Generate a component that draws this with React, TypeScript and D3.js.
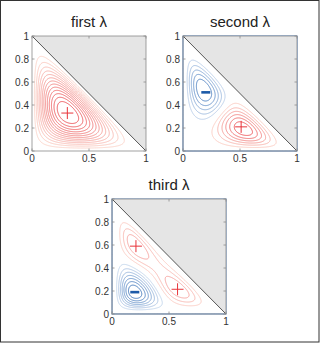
import React from "react";
import * as d3 from "d3";

// ---- data ----
const titles = ["first λ", "second λ", "third λ"];
const xTicks = [0, 0.5, 1];
const yTicks = [0, 0.2, 0.4, 0.6, 0.8, 1];

// extrema (bump centres) of each mode, with sign/amplitude and sharpness
const mode1Centers = [[0.31, 0.33]];
const mode1Amps = [1];
const mode1Sharp = [4.5];

const mode2Centers = [[0.51, 0.21], [0.2, 0.51]];
const mode2Amps = [1, -0.95];
const mode2Sharp = [9, 9];

const mode3Centers = [[0.2, 0.19], [0.21, 0.59], [0.575, 0.215]];
const mode3Amps = [-1, 0.5, 0.5];
const mode3Sharp = [12, 13, 13];

// contour levels (relative to max |value|)
const mode1Levels = [0.07, 0.14, 0.21, 0.28, 0.35, 0.42, 0.49, 0.56, 0.63, 0.7, 0.77, 0.84, 0.91];
const mode2Levels = [-0.78, -0.63, -0.48, -0.33, -0.18, 0.12, 0.27, 0.42, 0.57, 0.72, 0.87];
const mode3Levels = [-0.875, -0.75, -0.625, -0.5, -0.375, -0.25, -0.125, 0.125, 0.25, 0.375];

// markers: [x, y, sign]
const mode1Marks = [[0.31, 0.33, 1]];
const mode2Marks = [[0.51, 0.21, 1], [0.2, 0.51, -1]];
const mode3Marks = [[0.21, 0.59, 1], [0.575, 0.215, 1], [0.2, 0.19, -1]];

const N = 241;

function field(centers: number[][], amps: number[], sharp: number[]) {
  const vals = new Float64Array(N * N);
  for (let j = 0; j < N; j++) {
    const y = j / (N - 1);
    for (let i = 0; i < N; i++) {
      const x = i / (N - 1);
      const z = 1 - x - y;
      let v = 0;
      if (x > 0 && y > 0 && z > 0) {
        centers.forEach((c, k) => {
          const cx = c[0], cy = c[1], cz = 1 - cx - cy;
          const S = sharp[k];
          const b = Math.pow(x / cx, S * cx) * Math.pow(y / cy, S * cy) * Math.pow(z / cz, S * cz);
          v += amps[k] * b;
        });
      }
      vals[j * N + i] = v;
    }
  }
  let m = 0;
  for (let k = 0; k < vals.length; k++) m = Math.max(m, Math.abs(vals[k]));
  for (let k = 0; k < vals.length; k++) vals[k] /= m;
  return vals;
}

const redC = d3.interpolateRgb("#fcdccf", "#e8353b");
const blueC = d3.interpolateRgb("#d5e2f3", "#1f5fae");

function Panel({ x0, y0, title, centers, amps, sharp, levels, marks }: any) {
  const W = 114, H = 115;
  const xs = d3.scaleLinear().domain([0, 1]).range([x0, x0 + W]);
  const ys = d3.scaleLinear().domain([0, 1]).range([y0 + H, y0]);
  const vals = field(centers, amps, sharp);
  const conts = d3.contours().size([N, N]).thresholds(levels)(Array.from(vals));
  const proj = d3.geoTransform({
    point: function (px: number, py: number) {
      (this as any).stream.point(xs((px - 0.5) / (N - 1)), ys((py - 0.5) / (N - 1)));
    },
  });
  const path = d3.geoPath(proj);
  const axisCol = "#8a8a8a";
  return (
    <g>
      <text x={x0 + W / 2} y={y0 - 9} textAnchor="middle" fontSize={15} fill="#222"
        fontFamily="Liberation Sans, Arial, sans-serif">{title}</text>
      {conts.map((c, k) => {
        const v = levels[k];
        if (!c.coordinates.length) return null;
        const col = v > 0 ? redC(v) : blueC(-v);
        return <path key={k} d={path(c as any) || ""} fill="none" stroke={col} strokeWidth={0.9} />;
      })}
      <path d={`M${xs(0)},${ys(1)}L${xs(1)},${ys(1)}L${xs(1)},${ys(0)}Z`} fill="#e5e5e5" />
      <line x1={xs(0)} y1={ys(1)} x2={xs(1)} y2={ys(0)} stroke="#555" strokeWidth={1} />
      <rect x={x0} y={y0} width={W} height={H} fill="none" stroke={axisCol} strokeWidth={0.8} />
      {xTicks.map((t) => (
        <g key={"x" + t}>
          <line x1={xs(t)} x2={xs(t)} y1={ys(0)} y2={ys(0) - 2.5} stroke={axisCol} strokeWidth={0.8} />
          <line x1={xs(t)} x2={xs(t)} y1={ys(1)} y2={ys(1) + 2.5} stroke={axisCol} strokeWidth={0.8} />
          <text x={xs(t)} y={ys(0) + 11} textAnchor="middle" fontSize={10} fill="#333"
            fontFamily="Liberation Sans, Arial, sans-serif">{t}</text>
        </g>
      ))}
      {yTicks.map((t) => (
        <g key={"y" + t}>
          <line x1={xs(0)} x2={xs(0) + 2.5} y1={ys(t)} y2={ys(t)} stroke={axisCol} strokeWidth={0.8} />
          <line x1={xs(1)} x2={xs(1) - 2.5} y1={ys(t)} y2={ys(t)} stroke={axisCol} strokeWidth={0.8} />
          <text x={xs(0) - 3} y={ys(t) + 3.5} textAnchor="end" fontSize={10} fill="#333"
            fontFamily="Liberation Sans, Arial, sans-serif">{t}</text>
        </g>
      ))}
      {marks.map((m: number[], k: number) =>
        m[2] > 0 ? (
          <g key={"m" + k} stroke="#e8343a" strokeWidth={1}>
            <line x1={xs(m[0]) - 6} x2={xs(m[0]) + 6} y1={ys(m[1])} y2={ys(m[1])} />
            <line x1={xs(m[0])} x2={xs(m[0])} y1={ys(m[1]) - 6} y2={ys(m[1]) + 6} />
          </g>
        ) : (
          <line key={"m" + k} x1={xs(m[0]) - 4.5} x2={xs(m[0]) + 4.5} y1={ys(m[1])} y2={ys(m[1])}
            stroke="#1c5aa8" strokeWidth={2.6} />
        )
      )}
    </g>
  );
}

export default function App() {
  return (
    <svg width={320} height={343} style={{ position: "absolute", left: 0, top: 0, background: "#fff" }}>
      <rect x={0.5} y={0.5} width={318.5} height={341.5} fill="#fff" stroke="#333" strokeWidth={1} />
      <Panel x0={32} y0={36} title={titles[0]} centers={mode1Centers} amps={mode1Amps} sharp={mode1Sharp}
        levels={mode1Levels} marks={mode1Marks} />
      <Panel x0={183} y0={36} title={titles[1]} centers={mode2Centers} amps={mode2Amps} sharp={mode2Sharp}
        levels={mode2Levels} marks={mode2Marks} />
      <Panel x0={112} y0={199} title={titles[2]} centers={mode3Centers} amps={mode3Amps} sharp={mode3Sharp}
        levels={mode3Levels} marks={mode3Marks} />
    </svg>
  );
}
